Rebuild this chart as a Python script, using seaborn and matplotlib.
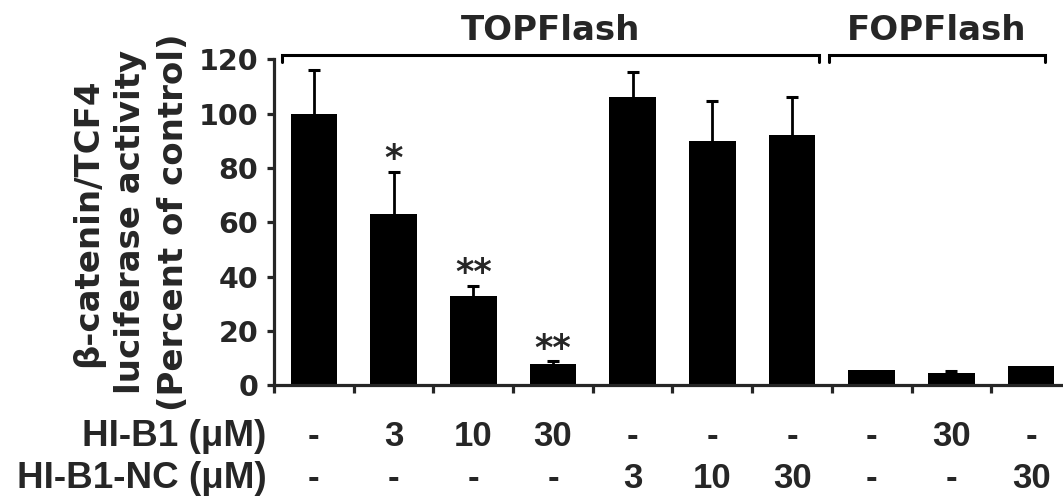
import numpy as np
import pandas as pd
import matplotlib
matplotlib.use("Agg")
import matplotlib.pyplot as plt
import matplotlib.transforms as mtransforms
import seaborn as sns

# ---- data ----
reporter = ["TOPFlash"] * 7 + ["FOPFlash"] * 3
hi_b1 = ["-", "3", "10", "30", "-", "-", "-", "-", "30", "-"]
hi_b1_nc = ["-", "-", "-", "-", "3", "10", "30", "-", "-", "30"]
activity = [100, 63, 33, 7.8, 106, 90, 92, 5.5, 4.5, 7]
err_up = [16, 15.5, 3.5, 1, 9.5, 14.5, 14.3, 0, 0.6, 0]
signif = ["", "*", "**", "**", "", "", "", "", "", ""]
row_labels = ["HI-B1 (μM)", "HI-B1-NC (μM)"]
group_names = ["TOPFlash", "FOPFlash"]
y_ticks = [0, 20, 40, 60, 80, 100, 120]
ylabel = "β-catenin/TCF4\nluciferase activity\n(Percent of control)"

# ---- style ----
sns.set_style("ticks")
plt.rcParams["font.family"] = ["DejaVu Sans"]
plt.rcParams["font.weight"] = "bold"

W, H = 1063, 498
fig = plt.figure(figsize=(W / 100, H / 100), dpi=100)
ax = fig.add_axes([274 / W, (H - 385.3) / H, (W - 274) / W, 325.9 / H])

df = pd.DataFrame({
    "cond": [f"{r}|{a}|{b}" for r, a, b in zip(reporter, hi_b1, hi_b1_nc)],
    "activity": activity,
})

sns.barplot(data=df, x="cond", y="activity", color="black", saturation=1,
            width=0.585, errorbar=None, edgecolor="black", linewidth=0, ax=ax)

xs = np.arange(len(df))
act = np.asarray(activity, dtype=float)
eu = np.asarray(err_up, dtype=float)
m = eu > 0
eb = ax.errorbar(xs[m], act[m], yerr=[np.zeros(m.sum()), eu[m]], fmt="none",
                 ecolor="black", elinewidth=2.0, capsize=4.4, capthick=2.2,
                 zorder=3)
for cl in eb[1]:
    if np.allclose(np.asarray(cl.get_ydata(), dtype=float), act[m]):
        cl.set_visible(False)

# significance stars
for x, a, e, s in zip(xs, act, eu, signif):
    if s:
        ax.annotate(s, (x, a + e), xytext=(0, 2.0), textcoords="offset points",
                    ha="center", va="baseline", fontsize=25.5,
                    fontweight="bold")

# axes formatting
ax.set_ylim(0, 120)
ax.set_xlim(-0.5, 9.4)
ax.set_yticks(y_ticks)
ax.set_yticklabels([str(t) for t in y_ticks])
ax.set_xticks(np.arange(-0.5, 9.0, 1.0))
ax.set_xticklabels([])
ax.set_xlabel("")
sns.despine(ax=ax)
for sp in ["left", "bottom"]:
    ax.spines[sp].set_linewidth(2.3)
ax.tick_params(axis="y", length=5, width=2.3, pad=6.5, labelsize=20.5,
               direction="out")
ax.tick_params(axis="x", length=5.5, width=2.3, direction="out")
for lab in ax.get_yticklabels():
    lab.set_fontweight("bold")

ax.set_ylabel(ylabel, fontsize=24.5, fontweight="bold", linespacing=1.38,
              multialignment="center")
ax.yaxis.set_label_coords(-0.1065, 0.5)

# group brackets and labels
bracket_spans = [(-0.40, 6.34), (6.46, 9.17)]
for (x0, x1), name in zip(bracket_spans, group_names):
    ax.plot([x0, x0, x1, x1], [119.0, 121.8, 121.8, 119.0], color="black",
            lw=2.2, clip_on=False, solid_joinstyle="miter")
    ax.text((x0 + x1) / 2, 127.3, name, ha="center", va="baseline",
            fontsize=24.5, fontweight="bold", clip_on=False)

# treatment rows under the axis
blend = mtransforms.blended_transform_factory(ax.transData, ax.transAxes)
row_y = [-0.186, -0.314]
for yy, lab, vals in zip(row_y, row_labels, [hi_b1, hi_b1_nc]):
    ax.text(-0.0093, yy, lab, transform=ax.transAxes, ha="right",
            va="baseline", fontsize=26.5, fontweight="bold",
            family=["Liberation Sans", "DejaVu Sans"])
    for x, v in zip(xs, vals):
        ax.text(x, yy, v, transform=blend, ha="center", va="baseline",
                fontsize=25, fontweight="bold",
                family=["Liberation Sans", "DejaVu Sans"])

fig.savefig("out.png", dpi=100)
